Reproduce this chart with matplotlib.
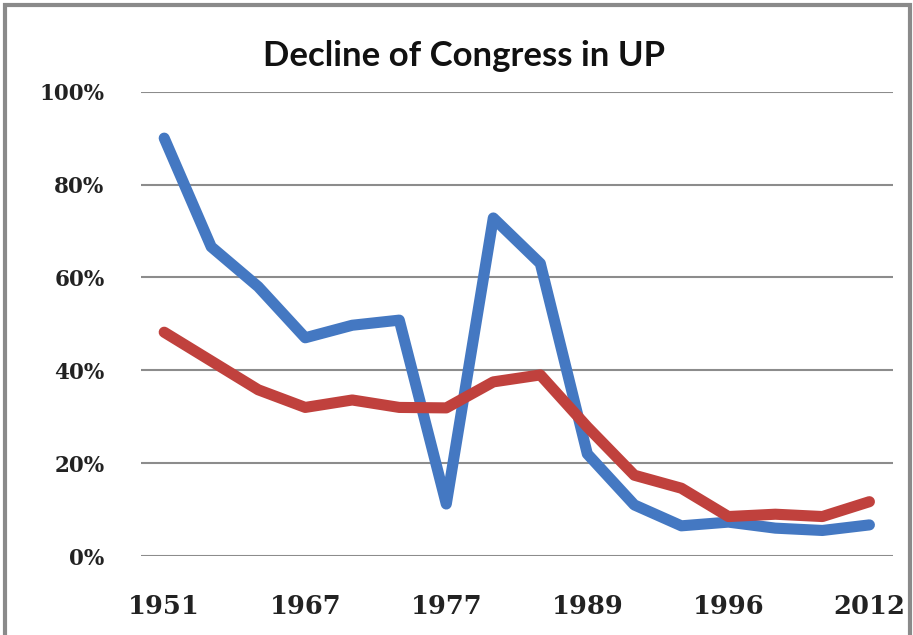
import matplotlib.pyplot as plt
from matplotlib.patches import Rectangle

# election years (only every 3rd one gets a label, like the Excel chart)
years = ["1951", "1957", "1962", "1967", "1969", "1974", "1977", "1980",
         "1985", "1989", "1991", "1993", "1996", "2002", "2007", "2012"]
# blue series
blue_vals = [90, 66.6, 58, 47, 49.7, 50.8, 11.2, 72.8,
             63, 22, 11, 6.5, 7.3, 6, 5.5, 6.7]
# red series
red_vals = [48.2, 42, 35.8, 32, 33.6, 32, 31.9, 37.5,
            39, 27.8, 17.4, 14.6, 8.5, 9, 8.5, 11.7]
y_ticks = [0, 20, 40, 60, 80, 100]

fig = plt.figure(figsize=(9.13, 6.35), dpi=100)
ax = fig.add_axes([0.1541, 0.1244, 0.8239, 0.7312])

x = list(range(len(years)))
ax.plot(x, blue_vals, color="#4478C2", lw=8, solid_capstyle="round",
        solid_joinstyle="round", zorder=3)
ax.plot(x, red_vals, color="#C0413D", lw=8, solid_capstyle="round",
        solid_joinstyle="round", zorder=3)

ax.set_xlim(-0.5, len(years) - 0.5)
ax.set_ylim(0, 100)
ax.set_yticks(y_ticks)
ax.set_yticklabels([f"{v}%" for v in y_ticks], family="DejaVu Serif",
                   fontweight="bold", fontsize=15.5, color="#222222")
ax.set_xticks(x[::3])
ax.set_xticklabels(years[::3], family="DejaVu Serif", fontweight="bold",
                   fontsize=18.5, color="#222222")
ax.tick_params(axis="y", length=0, pad=26)
ax.tick_params(axis="x", length=0, pad=27)
ax.grid(axis="y", color="#8c8c8c", lw=1.5)
ax.set_axisbelow(True)
for s in ax.spines.values():
    s.set_visible(False)

fig.text(0.508, 0.912, "Decline of Congress in UP", ha="center", va="center",
         family="Lato", fontweight="bold", fontsize=25, color="#111111")

# grey outer frame of the screenshot (bottom edge cut off)
fig.patches.append(Rectangle((5 / 913, -0.05), 905 / 913, 1.05 - 5 / 635,
                             transform=fig.transFigure, fill=False,
                             edgecolor="#8a8a8a", lw=3, clip_on=False))

fig.savefig("out.png", dpi=100)
